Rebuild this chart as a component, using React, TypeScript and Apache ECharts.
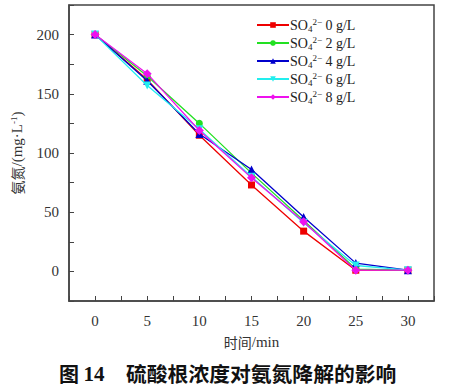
import React, { useEffect, useRef } from "react";
import * as echarts from "echarts";

const times = [0, 5, 10, 15, 20, 25, 30];
const seriesNames = ["0 g/L", "2 g/L", "4 g/L", "6 g/L", "8 g/L"];
const so4_0 = [200, 162, 115, 73, 34, 1, 1];
const so4_2 = [200, 165, 125, 83, 43, 2, 1];
const so4_4 = [200, 161, 116, 86, 46, 7, 1];
const so4_6 = [200, 157, 120, 80, 41, 5, 1];
const so4_8 = [200, 167, 119, 79, 42, 1, 1];
const seriesValues = [so4_0, so4_2, so4_4, so4_6, so4_8];
const colors = ["#ee0000", "#22e022", "#0000cc", "#22eeee", "#ee11ee"];
const symbols = ["rect", "circle", "triangle", "triangle", "diamond"];
const rotates = [0, 0, 0, 180, 0];
const sizes = [7, 7, 8, 8, 9];

const SERIF = "'Liberation Serif', 'Times New Roman', serif";
const CJK = "'Noto Sans CJK SC', sans-serif";

export default function App() {
  const ref = useRef<HTMLDivElement>(null);
  useEffect(() => {
    const chart = echarts.init(ref.current!, undefined, { renderer: "svg" });
    const series = seriesValues.map((vals, i) => ({
      name: seriesNames[i],
      type: "line",
      data: times.map((t, j) => [t, vals[j]]),
      symbol: symbols[i],
      symbolRotate: rotates[i],
      symbolSize: sizes[i],
      showAllSymbol: true,
      lineStyle: { color: colors[i], width: 1.3 },
      itemStyle: { color: colors[i] },
      z: 2 + i,
    }));
    chart.setOption({
      animation: false,
      backgroundColor: "#ffffff",
      grid: {
        left: 69,
        top: 5,
        right: 32,
        bottom: 88,
        show: true,
        borderColor: "#444",
        borderWidth: 1.5,
        backgroundColor: "transparent",
      },
      legend: {
        orient: "vertical",
        left: 251,
        top: 12,
        itemWidth: 32,
        itemHeight: 7,
        itemGap: 2,
        data: seriesNames,
        formatter: (name: string) => `{a|SO}{sub|4}{sup|2−}{a| ${name}}`,
        textStyle: {
          padding: [0, 0, 0, -4],
          rich: {
            a: { fontFamily: SERIF, fontSize: 14, color: "#222", lineHeight: 16, verticalAlign: "middle" },
            sub: { fontFamily: SERIF, fontSize: 9, color: "#222", lineHeight: 9, verticalAlign: "bottom" },
            sup: { fontFamily: SERIF, fontSize: 9, color: "#222", lineHeight: 9, verticalAlign: "top" },
          },
        },
      },
      xAxis: {
        type: "value",
        min: -2.5,
        max: 32.5,
        interval: 2.5,
        name: "{a|时间}{b|/min}",
        nameLocation: "middle",
        nameGap: 33,
        nameTextStyle: {
          rich: {
            a: { fontFamily: CJK, fontSize: 14, color: "#333" },
            b: { fontFamily: SERIF, fontSize: 15, color: "#333" },
          },
        },
        axisLine: { show: true, onZero: false, lineStyle: { color: "#444", width: 1.5 } },
        axisTick: { show: true, inside: true, length: 5, lineStyle: { color: "#444" } },
        axisLabel: {
          margin: 12,
          fontFamily: SERIF,
          fontSize: 15,
          color: "#333",
          formatter: (v: number) => (v >= 0 && v <= 30 && v % 5 === 0 ? String(v) : ""),
        },
        splitLine: { show: false },
      },
      yAxis: {
        type: "value",
        min: -25,
        max: 225,
        interval: 25,
        name: "{a|氨氮}{b|/(mg·L}{s|-1}{b|)}",
        nameLocation: "middle",
        nameGap: 44,
        nameRotate: 90,
        nameTextStyle: {
          rich: {
            a: { fontFamily: CJK, fontSize: 14, color: "#333", lineHeight: 16, verticalAlign: "middle" },
            b: { fontFamily: SERIF, fontSize: 15, color: "#333", lineHeight: 16, verticalAlign: "middle" },
            s: { fontFamily: SERIF, fontSize: 9, color: "#333", lineHeight: 9, verticalAlign: "top" },
          },
        },
        axisLine: { show: true, onZero: false, lineStyle: { color: "#444", width: 1.5 } },
        axisTick: { show: true, inside: true, length: 5, lineStyle: { color: "#444" } },
        axisLabel: {
          margin: 10,
          fontFamily: SERIF,
          fontSize: 15,
          color: "#333",
          formatter: (v: number) => (v >= 0 && v <= 200 && v % 50 === 0 ? String(v) : ""),
        },
        splitLine: { show: false },
      },
      graphic: [
        {
          type: "text",
          left: 59,
          top: 363,
          style: {
            text: "{c|图 }{n|14}",
            rich: {
              c: { fontFamily: CJK, fontSize: 20, fontWeight: "bold", fill: "#111" },
              n: { fontFamily: SERIF, fontSize: 21, fontWeight: "bold", fill: "#111" },
            },
          },
        },
        {
          type: "text",
          left: 126,
          top: 363,
          style: {
            text: "硫酸根浓度对氨氮降解的影响",
            font: `bold 20.8px ${CJK}`,
            fill: "#111",
          },
        },
      ],
      series,
    });
    return () => chart.dispose();
  }, []);
  return (
    <div
      ref={ref}
      style={{ position: "fixed", left: 0, top: 0, width: 466, height: 389, background: "#fff" }}
    />
  );
}
